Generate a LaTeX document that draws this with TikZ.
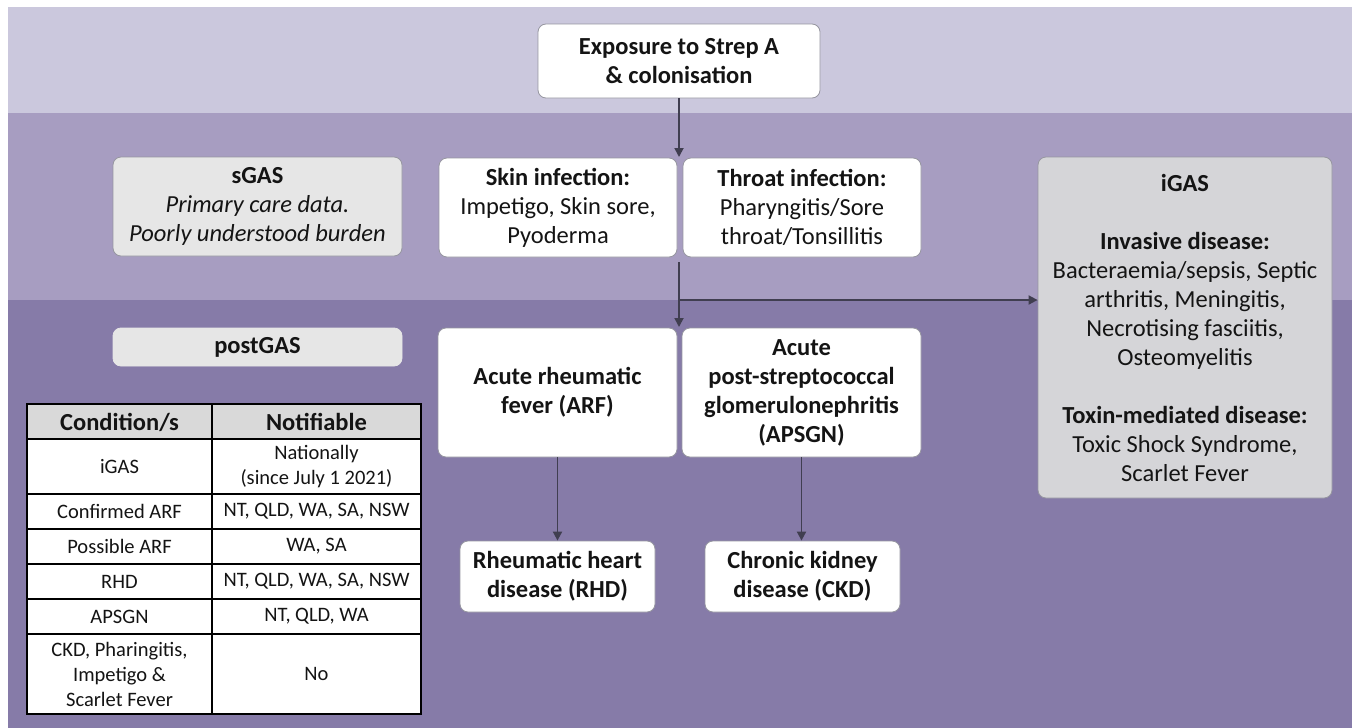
\documentclass[tikz,border=0pt]{standalone}
\usepackage{fontspec}
\setmainfont{Carlito}
\usetikzlibrary{arrows.meta}
\definecolor{bandA}{RGB}{203,200,221}
\definecolor{bandB}{RGB}{167,157,193}
\definecolor{bandC}{RGB}{134,123,168}
\definecolor{boxline}{RGB}{150,150,160}
\definecolor{lightgrey}{RGB}{230,230,230}
\definecolor{midgrey}{RGB}{213,213,216}
\definecolor{arrowc}{RGB}{64,62,80}
\definecolor{hdrgrey}{RGB}{217,217,217}
\definecolor{txt}{RGB}{20,20,20}
\begin{document}
\begin{tikzpicture}[x=1pt,y=-1pt,
  box/.style={draw=boxline, line width=0.8pt, rounded corners=8pt, fill=white, align=center, inner sep=0pt, text=txt, font=\fontsize{24.5pt}{29pt}\selectfont},
  greybox/.style={box, fill=lightgrey},
  igasbox/.style={box, fill=midgrey},
  conn/.style={draw=arrowc, line width=1.8pt, -{Triangle[length=9pt,width=9pt]}},
  cell/.style={align=center, inner sep=0pt, text=txt, font=\fontsize{20.5pt}{25pt}\selectfont},
  hcell/.style={cell, font=\fontsize{24.5pt}{29pt}\selectfont\bfseries},
  tline/.style={draw=black, line width=1.6pt}
]
\useasboundingbox (0,0) rectangle (1352,728);
\fill[white] (0,0) rectangle (1352,728);
\fill[bandA] (8,7) rectangle (1352,113);
\fill[bandB] (8,113) rectangle (1352,300);
\fill[bandC] (8,300) rectangle (1352,728);

% boxes
\node[box, minimum width=282pt, minimum height=74pt] (expo) at (679,61) {\textbf{Exposure to Strep A}\\\textbf{\& colonisation}};
\node[greybox, minimum width=289pt, minimum height=99pt] (sgas) at (257.5,206.5) {\textbf{sGAS}\\\textit{Primary care data.}\\\textit{Poorly understood burden}};
\node[box, minimum width=238pt, minimum height=99pt] (skin) at (558,207.5) {\textbf{Skin infection:}\\Impetigo, Skin sore,\\Pyoderma};
\node[box, minimum width=238pt, minimum height=99pt] (throat) at (802,207.5) {\textbf{Throat infection:}\\Pharyngitis/Sore\\throat/Tonsillitis};
\node[igasbox, minimum width=294pt, minimum height=341pt] (igas) at (1185,327.5) {\textbf{iGAS}\\[29pt]\textbf{Invasive disease:}\\Bacteraemia/sepsis, Septic\\arthritis, Meningitis,\\Necrotising fasciitis,\\Osteomyelitis\\[29pt]\textbf{Toxin-mediated disease:}\\Toxic Shock Syndrome,\\Scarlet Fever};
\node[greybox, draw=lightgrey, minimum width=289pt, minimum height=38pt] (postgas) at (257.5,347) {\textbf{postGAS}};
\node[box, minimum width=239pt, minimum height=129pt] (arf) at (557.5,392.5) {\textbf{Acute rheumatic}\\\textbf{fever (ARF)}};
\node[box, minimum width=239pt, minimum height=129pt] (apsgn) at (801.5,392.5) {\textbf{Acute}\\\textbf{post-streptococcal}\\\textbf{glomerulonephritis}\\\textbf{(APSGN)}};
\node[box, minimum width=195pt, minimum height=71pt] (rhd) at (557.5,576.5) {\textbf{Rheumatic heart}\\\textbf{disease (RHD)}};
\node[box, minimum width=195pt, minimum height=71pt] (ckd) at (802.5,576.5) {\textbf{Chronic kidney}\\\textbf{disease (CKD)}};

% connectors
\coordinate (j1) at (679,157);
\coordinate (j2) at (679,262);
\coordinate (j3) at (679,327);
\coordinate (j4) at (679,300);
\draw[conn] (expo.south) -- (j1);
\draw[conn] (j2) -- (j3);
\draw[conn] (j4) -- (j4 -| igas.west);
\draw[conn] (arf.south) -- (rhd.north);
\draw[conn] (apsgn.south) -- (apsgn.south |- ckd.north);

% table
\fill[hdrgrey] (27,404) rectangle (421,439);
\fill[white] (27,439) rectangle (421,714);
\draw[tline] (27,404) rectangle (421,714);
\draw[tline] (212,404) -- (212,714);
\foreach \yy in {439,494,529,564,599,634} {\draw[tline] (27,\yy) -- (421,\yy);}
\node[hcell] (h1) at (119.5,422) {Condition/s};
\node[hcell] (h2) at (316.5,422) {Notifiable};
\node[cell] (c11) at (119.5,466.5) {iGAS};
\node[cell] (c12) at (316.5,466.5) {Nationally\\(since July 1 2021)};
\node[cell] (c21) at (119.5,511.5) {Confirmed ARF};
\node[cell] (c22) at (316.5,511.5) {NT, QLD, WA, SA, NSW};
\node[cell] (c31) at (119.5,546.5) {Possible ARF};
\node[cell] (c32) at (316.5,546.5) {WA, SA};
\node[cell] (c41) at (119.5,581.5) {RHD};
\node[cell] (c42) at (316.5,581.5) {NT, QLD, WA, SA, NSW};
\node[cell] (c51) at (119.5,616.5) {APSGN};
\node[cell] (c52) at (316.5,616.5) {NT, QLD, WA};
\node[cell] (c61) at (119.5,674) {CKD, Pharingitis,\\Impetigo \&\\Scarlet Fever};
\node[cell] (c62) at (316.5,674) {No};
\end{tikzpicture}
\end{document}
